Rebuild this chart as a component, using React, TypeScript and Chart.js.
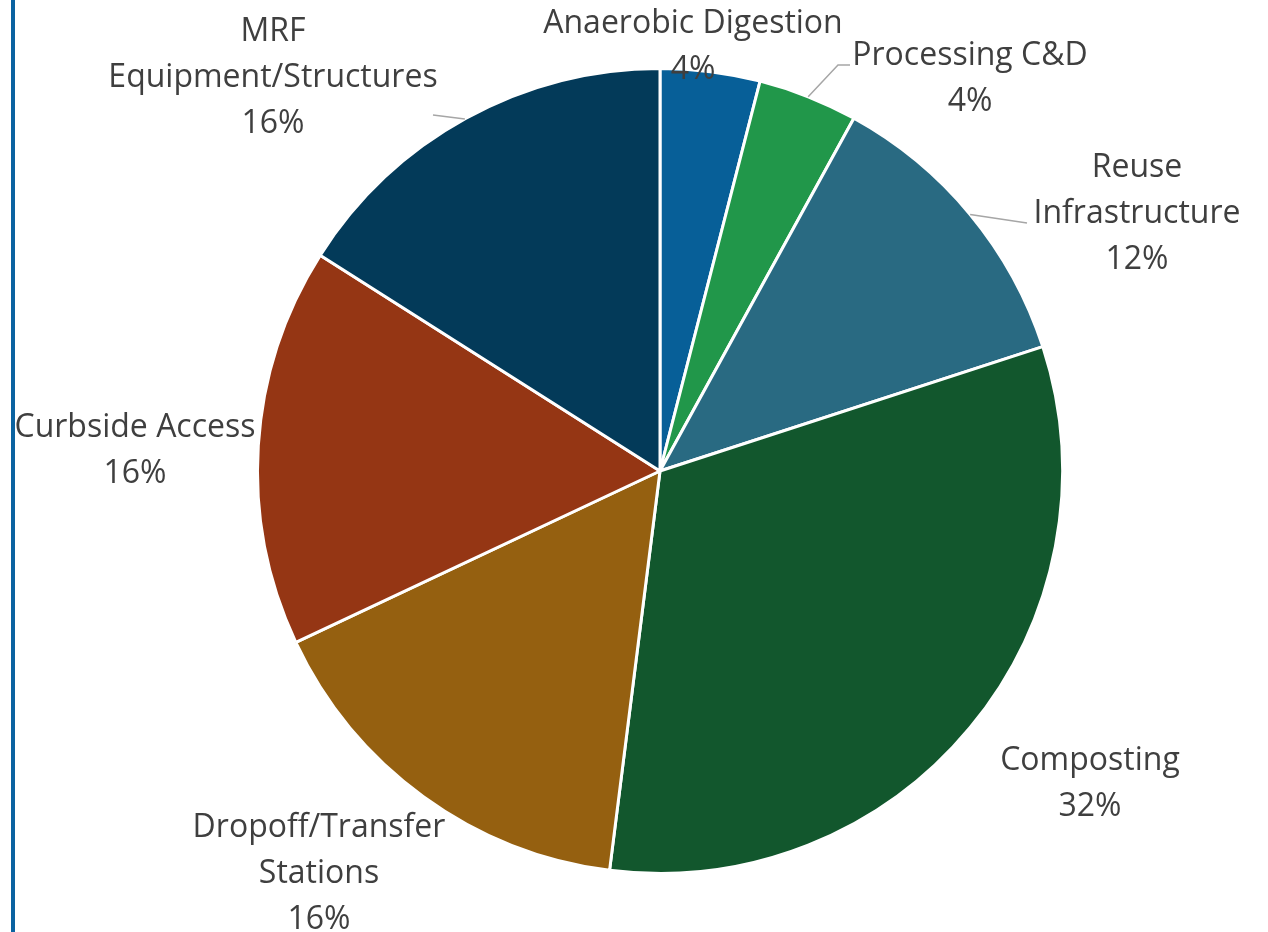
import React, { useEffect, useRef } from "react";
import { Chart, registerables } from "chart.js";

Chart.register(...registerables);

const categories: string[] = [
  "Anaerobic Digestion",
  "Processing C&D",
  "Reuse Infrastructure",
  "Composting",
  "Dropoff/Transfer Stations",
  "Curbside Access",
  "MRF Equipment/Structures",
];

const labelLines: string[][] = [
  ["Anaerobic Digestion"],
  ["Processing C&D"],
  ["Reuse", "Infrastructure"],
  ["Composting"],
  ["Dropoff/Transfer", "Stations"],
  ["Curbside Access"],
  ["MRF", "Equipment/Structures"],
];

const shares: number[] = [4, 4, 12, 32, 16, 16, 16];

const sliceColors: string[] = [
  "#075f98",
  "#21974a",
  "#296a82",
  "#12572d",
  "#956010",
  "#953614",
  "#033a59",
];

// label placement: first-line baseline, relative to pie centre (dx, dy)
const labelSpots: { dx: number; dy: number }[] = [
  { dx: 33, dy: -438 },
  { dx: 310, dy: -406 },
  { dx: 477, dy: -294 },
  { dx: 430, dy: 299 },
  { dx: -341, dy: 366 },
  { dx: -525, dy: -34 },
  { dx: -387, dy: -430 },
];

// leader lines: edge angle (deg from top, clockwise; null = slice middle) then points relative to centre
const leaders: { slice: number; edgeDeg: number | null; pts: [number, number][] }[] = [
  { slice: 1, edgeDeg: null, pts: [[178, -406], [190, -406]] },
  { slice: 2, edgeDeg: null, pts: [[367, -248]] },
  { slice: 6, edgeDeg: 331, pts: [[-227, -356]] },
];

const LINE_GAP = 46;
const FONT = "32px 'Open Sans', 'Noto Sans', sans-serif";

const labelPlugin = {
  id: "outerLabels",
  afterDatasetsDraw(chart: any) {
    const meta = chart.getDatasetMeta(0);
    const arcs = meta.data;
    if (!arcs.length) return;
    const cx = arcs[0].x;
    const cy = arcs[0].y;
    const r = arcs[0].outerRadius;
    const ctx = chart.ctx;
    const total = shares.reduce((a, b) => a + b, 0);
    ctx.save();
    // leader lines
    ctx.strokeStyle = "#a6a6a6";
    ctx.lineWidth = 1.5;
    leaders.forEach((ld) => {
      const arc = arcs[ld.slice];
      const ang =
        ld.edgeDeg === null
          ? (arc.startAngle + arc.endAngle) / 2
          : (ld.edgeDeg * Math.PI) / 180 - Math.PI / 2;
      ctx.beginPath();
      ctx.moveTo(cx + r * Math.cos(ang), cy + r * Math.sin(ang));
      ld.pts.forEach(([dx, dy]) => ctx.lineTo(cx + dx, cy + dy));
      ctx.stroke();
    });
    // labels
    ctx.font = FONT;
    ctx.fillStyle = "#3f3f3f";
    ctx.textAlign = "center";
    ctx.textBaseline = "alphabetic";
    labelSpots.forEach((spot, i) => {
      const lines = [...labelLines[i], Math.round((shares[i] / total) * 100) + "%"];
      lines.forEach((t, k) => {
        ctx.fillText(t, cx + spot.dx, cy + spot.dy + k * LINE_GAP);
      });
    });
    ctx.restore();
  },
};

export default function App() {
  const ref = useRef<HTMLCanvasElement | null>(null);
  useEffect(() => {
    if (!ref.current) return;
    const chart = new Chart(ref.current, {
      type: "pie",
      data: {
        labels: categories,
        datasets: [
          {
            data: shares,
            backgroundColor: sliceColors,
            borderColor: "#ffffff",
            borderWidth: 3,
          },
        ],
      },
      options: {
        animation: false,
        responsive: false,
        devicePixelRatio: 1,
        layout: { padding: { left: 256, right: 204, top: 67, bottom: 57 } },
        plugins: {
          legend: { display: false },
          tooltip: { enabled: false },
        },
      },
      plugins: [labelPlugin],
    });
    return () => chart.destroy();
  }, []);
  return (
    <div style={{ position: "fixed", left: 0, top: 0, width: 1268, height: 932, background: "#fff" }}>
      <div style={{ position: "absolute", left: 11, top: 0, width: 4, height: 932, background: "#0b63a1" }} />
      <canvas ref={ref} width={1268} height={932} style={{ position: "absolute", left: 0, top: 0 }} />
    </div>
  );
}
